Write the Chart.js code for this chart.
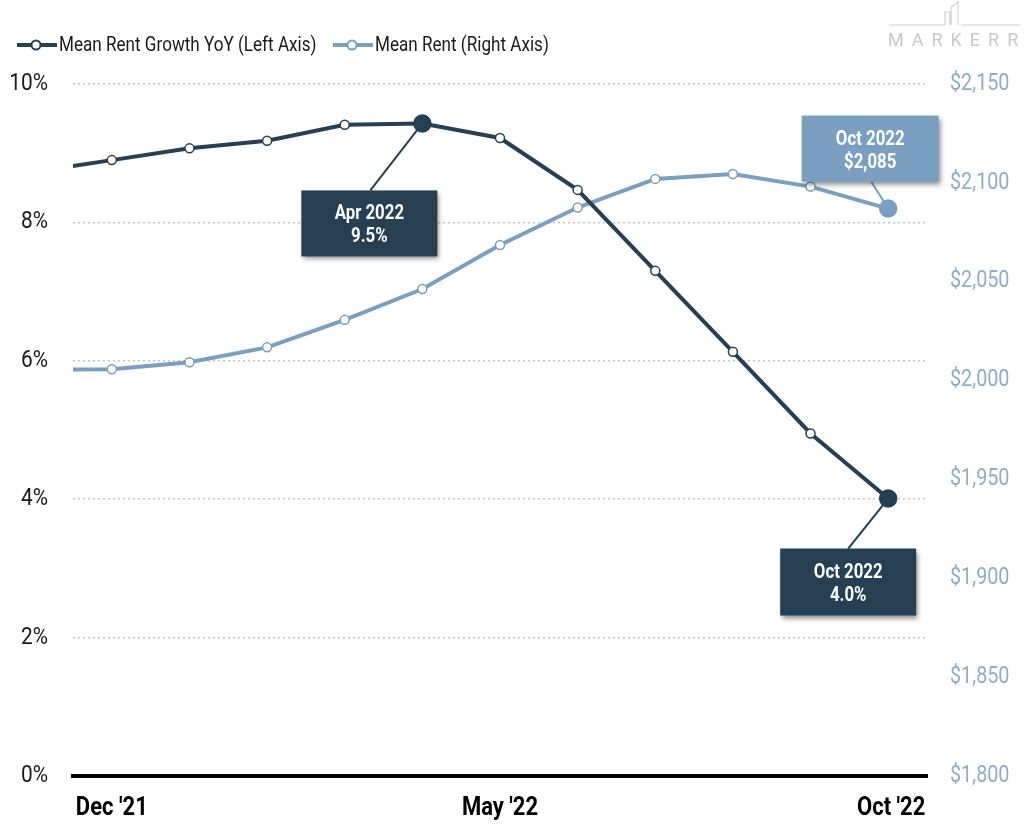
<!DOCTYPE html>
<html>
<head>
<meta charset="utf-8">
<script src="https://cdn.jsdelivr.net/npm/chart.js@4.4.1/dist/chart.umd.min.js"></script>
<style>
  html, body { margin: 0; padding: 0; background: #ffffff; }
  #wrap { width: 1024px; height: 832px; }
</style>
</head>
<body>
<div id="wrap"><canvas id="c" width="1024" height="832"></canvas></div>
<script>
// ---- data ----
const months = ["Nov '21", "Dec '21", "Jan '22", "Feb '22", "Mar '22", "Apr '22", "May '22", "Jun '22", "Jul '22", "Aug '22", "Sep '22", "Oct '22"];
const growthYoY = [8.73, 8.90, 9.07, 9.18, 9.41, 9.43, 9.22, 8.47, 7.30, 6.13, 4.95, 4.01];
const meanRent = [2005.5, 2005.7, 2009.3, 2016.8, 2030.7, 2046.3, 2068.6, 2087.5, 2102.0, 2104.5, 2098.1, 2087.0];
const xTickIndex = [1, 6, 11];
const leftTicks = [0, 2, 4, 6, 8, 10];
const rightTicks = [1800, 1850, 1900, 1950, 2000, 2050, 2100, 2150];
const seriesNames = ["Mean Rent Growth YoY (Left Axis)", "Mean Rent (Right Axis)"];
const callouts = [
  { series: 0, index: 5, lines: ["Apr 2022", "9.5%"] },
  { series: 0, index: 11, lines: ["Oct 2022", "4.0%"] },
  { series: 1, index: 11, lines: ["Oct 2022", "$2,085"] }
];

// ---- styles ----
const FONT = "Roboto,'Liberation Sans',sans-serif";
const C_GROWTH = '#263f52';
const C_RENT = '#7a9fc1';
const C_RIGHT_TICK = '#8fadc9';
const highlightIdx = [[5, 11], [11]];

function pts(arr) { return arr.map((v, i) => ({ x: i, y: v })); }
function radii(s, n) { return Array.from({ length: n }, (_, i) => highlightIdx[s].includes(i) ? 8.5 : 4.5); }
function fills(s, n, col) { return Array.from({ length: n }, (_, i) => highlightIdx[s].includes(i) ? col : '#ffffff'); }

// draw horizontally condensed text
function condText(ctx, text, x, y, align, sx) {
  ctx.save();
  ctx.translate(x, y);
  ctx.scale(sx, 1);
  ctx.textAlign = align;
  ctx.fillText(text, 0, 0);
  ctx.restore();
}

// callout geometry (offsets relative to the data point)
const calloutGeom = [
  { dx: -53, top: 67, w: 136, h: 66, color: C_GROWTH, anchorDx: -52, below: true },
  { dx: -40, top: 50, w: 136, h: 67, color: C_GROWTH, anchorDx: -40, below: true },
  { dx: -18, top: -93, w: 137, h: 66, color: C_RENT, anchorDx: -17, below: false }
];

function calloutRect(chart, k) {
  const c = callouts[k], g = calloutGeom[k];
  const meta = chart.getDatasetMeta(c.series);
  const el = meta.data[c.index];
  const px = el.x, py = el.y;
  const cx = px + g.dx;
  return { px, py, x: cx - g.w / 2, y: py + g.top, w: g.w, h: g.h, cx, g };
}

const decorPlugin = {
  id: 'decor',
  beforeDatasetsDraw(chart) {
    const ctx = chart.ctx;
    ctx.save();
    callouts.forEach((c, k) => {
      const r = calloutRect(chart, k);
      const ax = r.px + r.g.anchorDx;
      const ay = r.g.below ? r.y : r.y + r.h;
      ctx.strokeStyle = r.g.color;
      ctx.lineWidth = 2;
      ctx.beginPath();
      ctx.moveTo(r.px, r.py);
      ctx.lineTo(ax, ay);
      ctx.stroke();
    });
    ctx.restore();
  },
  afterDatasetsDraw(chart) {
    const ctx = chart.ctx;
    callouts.forEach((c, k) => {
      const r = calloutRect(chart, k);
      ctx.save();
      ctx.shadowColor = 'rgba(0,0,0,0.45)';
      ctx.shadowBlur = 5;
      ctx.shadowOffsetX = 2;
      ctx.shadowOffsetY = 3;
      ctx.fillStyle = r.g.color;
      ctx.fillRect(r.x, r.y, r.w, r.h);
      ctx.restore();
      ctx.save();
      ctx.fillStyle = '#ffffff';
      ctx.font = 'bold 20px ' + FONT;
      ctx.textBaseline = 'middle';
      condText(ctx, c.lines[0], r.cx, r.y + 24, 'center', 0.84);
      condText(ctx, c.lines[1], r.cx, r.y + 47, 'center', 0.84);
      ctx.restore();
    });
  },
  afterDraw(chart) {
    const ctx = chart.ctx;
    const xs = chart.scales.x, yl = chart.scales.y, yr = chart.scales.y1;
    // axis tick labels (condensed)
    ctx.save();
    ctx.textBaseline = 'middle';
    ctx.fillStyle = '#1a1a1a';
    ctx.font = '24px ' + FONT;
    leftTicks.forEach(v => condText(ctx, v + '%', 48, yl.getPixelForValue(v), 'right', 0.87));
    ctx.fillStyle = C_RIGHT_TICK;
    ctx.font = '23px ' + FONT;
    rightTicks.forEach(v => condText(ctx, '$' + v.toLocaleString('en-US'), 950, yr.getPixelForValue(v), 'left', 0.86));
    ctx.fillStyle = '#000000';
    ctx.font = 'bold 25px ' + FONT;
    xTickIndex.forEach((v, i) => {
      const x = xs.getPixelForValue(v) + (i === xTickIndex.length - 1 ? 3 : 0);
      condText(ctx, months[v], x, chart.chartArea.bottom + 33, 'center', 0.88);
    });
    ctx.restore();
    // legend
    const items = [
      { x0: 17, color: C_GROWTH, text: seriesNames[0] },
      { x0: 333, color: C_RENT, text: seriesNames[1] }
    ];
    ctx.save();
    items.forEach(it => {
      const y = 45;
      ctx.strokeStyle = it.color;
      ctx.lineWidth = 4;
      ctx.beginPath();
      ctx.moveTo(it.x0, y);
      ctx.lineTo(it.x0 + 40, y);
      ctx.stroke();
      ctx.beginPath();
      ctx.arc(it.x0 + 19, y, 4.5, 0, Math.PI * 2);
      ctx.fillStyle = '#ffffff';
      ctx.fill();
      ctx.lineWidth = 2;
      ctx.stroke();
      ctx.fillStyle = '#1a1a1a';
      ctx.font = '20px ' + FONT;
      ctx.textBaseline = 'middle';
      condText(ctx, it.text, it.x0 + 42, y + 1, 'left', 0.855);
    });
    ctx.restore();
    // logo
    ctx.save();
    ctx.strokeStyle = '#cfcfcf';
    ctx.lineWidth = 1.2;
    ctx.beginPath();
    ctx.moveTo(889, 25); ctx.lineTo(945, 25);
    ctx.moveTo(945, 25); ctx.lineTo(945, 12); ctx.lineTo(950, 12); ctx.lineTo(950, 25);
    ctx.moveTo(951, 25); ctx.lineTo(951, 7); ctx.lineTo(958, 2); ctx.lineTo(958, 25);
    ctx.moveTo(961, 25); ctx.lineTo(1020, 25);
    ctx.stroke();
    ctx.fillStyle = '#c8c8c8';
    ctx.font = '18px ' + FONT;
    ctx.textBaseline = 'middle';
    ctx.textAlign = 'left';
    const word = 'MARKERR';
    let x = 888;
    for (const ch of word) {
      ctx.fillText(ch, x, 41);
      x += ctx.measureText(ch).width + 8;
    }
    ctx.restore();
  }
};

const ctx = document.getElementById('c').getContext('2d');
new Chart(ctx, {
  type: 'line',
  data: {
    datasets: [
      {
        label: seriesNames[0],
        data: pts(growthYoY),
        yAxisID: 'y',
        borderColor: C_GROWTH,
        borderWidth: 4,
        pointRadius: radii(0, growthYoY.length),
        pointBackgroundColor: fills(0, growthYoY.length, C_GROWTH),
        pointBorderColor: C_GROWTH,
        pointBorderWidth: 1.5,
        tension: 0,
        clip: 0,
        order: 1
      },
      {
        label: seriesNames[1],
        data: pts(meanRent),
        yAxisID: 'y1',
        borderColor: C_RENT,
        borderWidth: 4,
        pointRadius: radii(1, meanRent.length),
        pointBackgroundColor: fills(1, meanRent.length, C_RENT),
        pointBorderColor: C_RENT,
        pointBorderWidth: 1.5,
        tension: 0,
        clip: 0,
        order: 2
      }
    ]
  },
  options: {
    responsive: false,
    animation: false,
    devicePixelRatio: 1,
    layout: { padding: { top: 84, left: 0, right: 0, bottom: 0 } },
    plugins: { legend: { display: false }, tooltip: { enabled: false } },
    scales: {
      x: {
        type: 'linear',
        min: 0.5,
        max: 11.5,
        grid: { display: false, drawTicks: false },
        border: { display: true, color: '#000000', width: 4 },
        afterBuildTicks: (s) => { s.ticks = xTickIndex.map(v => ({ value: v })); },
        ticks: { display: false },
        afterFit: (s) => { s.height = 56; }
      },
      y: {
        position: 'left',
        min: 0,
        max: 10,
        afterBuildTicks: (s) => { s.ticks = leftTicks.map(v => ({ value: v })); },
        grid: {
          color: (c) => c.tick && c.tick.value === 0 ? 'rgba(0,0,0,0)' : '#c4c4c4',
          lineWidth: 1.5,
          drawTicks: false
        },
        border: { display: false, dash: [2, 3] },
        ticks: { display: false },
        afterFit: (s) => { s.width = 73; }
      },
      y1: {
        position: 'right',
        min: 1800,
        max: 2150,
        afterBuildTicks: (s) => { s.ticks = rightTicks.map(v => ({ value: v })); },
        grid: { display: false, drawTicks: false },
        border: { display: false },
        ticks: { display: false },
        afterFit: (s) => { s.width = 97; }
      }
    }
  },
  plugins: [decorPlugin]
});
</script>
</body>
</html>
